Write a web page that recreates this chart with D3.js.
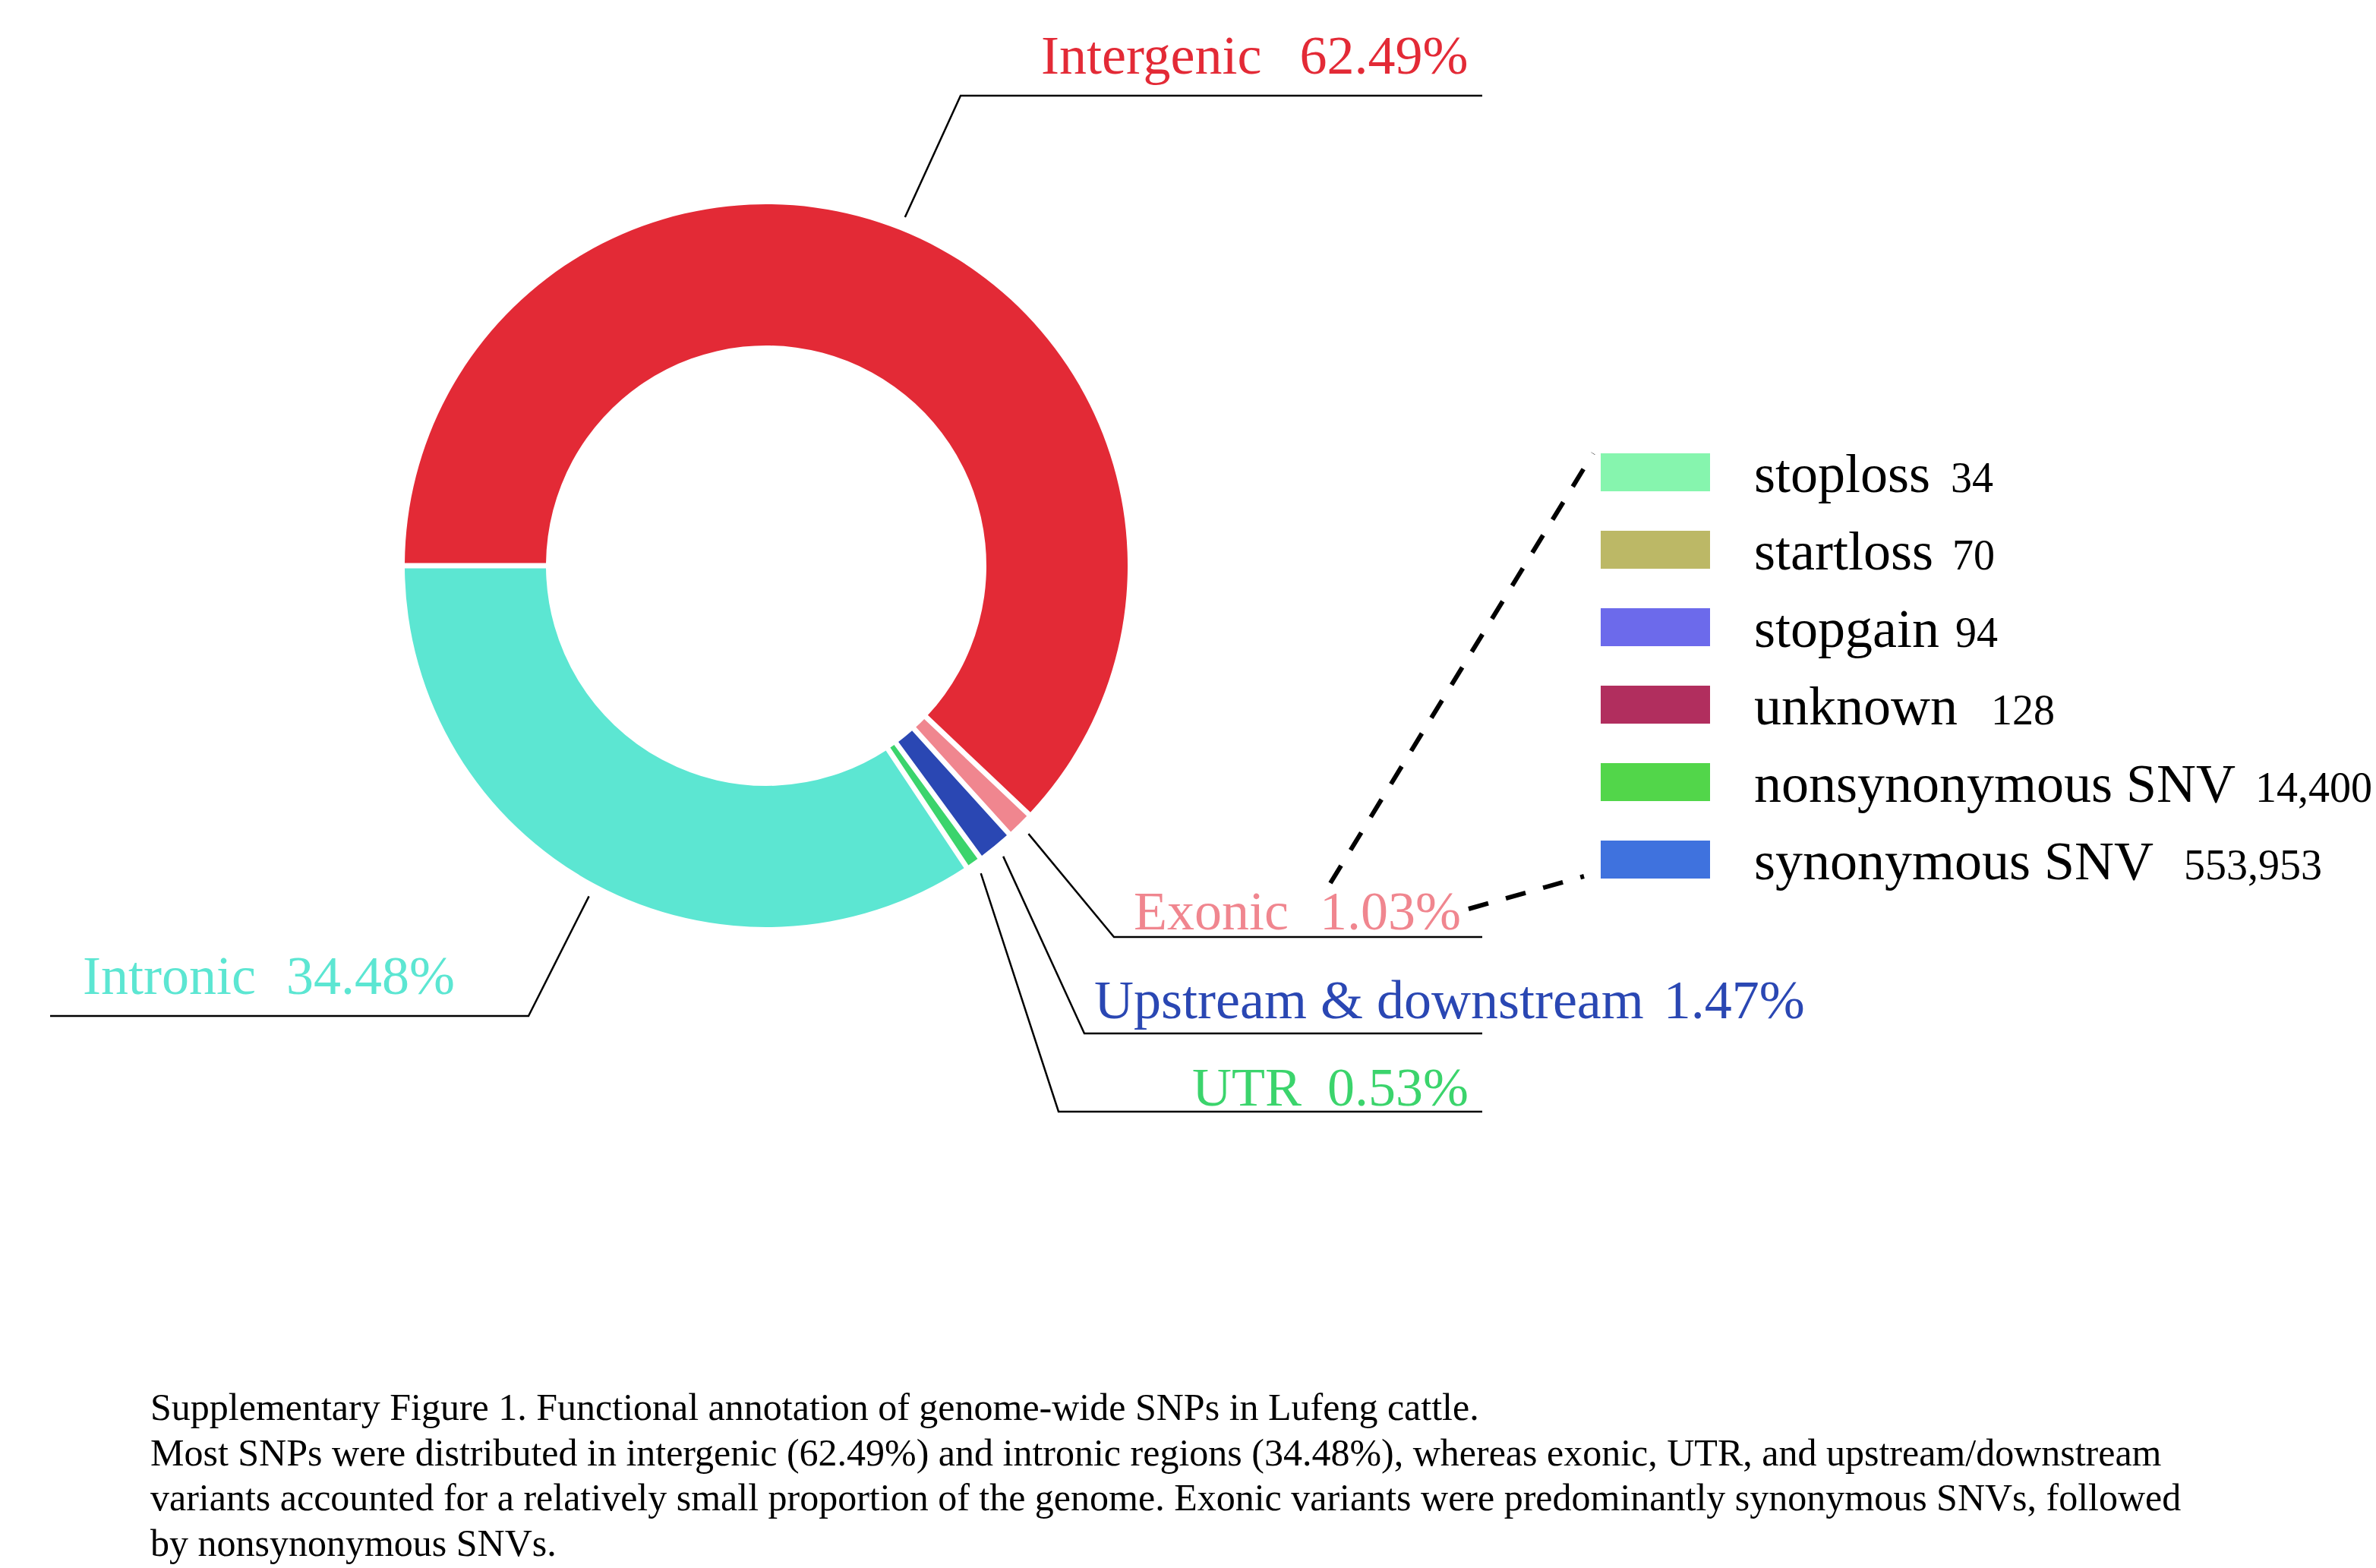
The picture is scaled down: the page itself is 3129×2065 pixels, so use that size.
<!DOCTYPE html>
<html>
<head>
<meta charset="utf-8">
<script src="https://cdn.jsdelivr.net/npm/d3@7"></script>
<style>
  body { margin: 0; background: #fff; }
  text { font-family: "Liberation Serif", "Times New Roman", serif; }
</style>
</head>
<body>
<div id="chart"></div>
<script>
// genomic region annotation (percent of all SNPs)
var categories = ["Intergenic", "Exonic", "Upstream & downstream", "UTR", "Intronic"];
var percents = [62.49, 1.03, 1.47, 0.53, 34.48];
var colors = ["#e32a36", "#f0868f", "#2a47b3", "#3bd46c", "#5ce6d2"];

// exonic variant types (counts)
var exonicTypes = ["stoploss", "startloss", "stopgain", "unknown", "nonsynonymous SNV", "synonymous SNV"];
var exonicCounts = [34, 70, 94, 128, 14400, 553953];
var exonicColors = ["#86f5ae", "#bcb866", "#6c6aeb", "#b12e5e", "#52d64a", "#3f72de"];

var captionLines = [
  "Supplementary Figure 1. Functional annotation of genome-wide SNPs in Lufeng cattle.",
  "Most SNPs were distributed in intergenic (62.49%) and intronic regions (34.48%), whereas exonic, UTR, and upstream/downstream",
  "variants accounted for a relatively small proportion of the genome. Exonic variants were predominantly synonymous SNVs, followed",
  "by nonsynonymous SNVs."
];

// layout of the leader lines / labels (one per category)
var labelLineY = [126, 1234, 1361, 1464, 1338];
var labelElbowX = [1265, 1467, 1428, 1394, 696];
var labelEndX = [1952, 1952, 1952, 1952, 66];
var labelTextX = [1371, 1493, 1441, 1570, 109];
var labelBaseY = [97, 1224, 1341, 1456, 1309];
var labelGap = [50, 41, 26, 34, 40];

var width = 3129, height = 2065;
var cx = 1009, cy = 745, rOuter = 476, rInner = 290;

var svg = d3.select("#chart")
  .append("svg")
    .attr("width", width)
    .attr("height", height);

var data = categories.map(function(c, i) { return {name: c, value: percents[i], i: i}; });

var pie = d3.pie()
  .sort(null)
  .value(function(d) { return d.value; })
  .startAngle(-Math.PI / 2)
  .endAngle(3 * Math.PI / 2)
  .padAngle(0.0125);

var arc = d3.arc()
  .innerRadius(rInner)
  .outerRadius(rOuter);

var arcs = pie(data);

var g = svg.append("g")
  .attr("transform", "translate(" + cx + "," + cy + ")");

g.selectAll("path.slice")
  .data(arcs)
  .enter()
  .append("path")
    .attr("class", "slice")
    .attr("fill", function(d) { return colors[d.data.i]; })
    .attr("d", arc);

// leader lines start just outside the ring at each slice's middle angle
var rLead = rOuter + 18;
svg.selectAll("polyline.lead")
  .data(arcs)
  .enter()
  .append("polyline")
    .attr("class", "lead")
    .attr("fill", "none")
    .attr("stroke", "#000")
    .attr("stroke-width", 2.5)
    .attr("points", function(d) {
      var a = (d.startAngle + d.endAngle) / 2;
      var i = d.data.i;
      var x0 = cx + rLead * Math.sin(a), y0 = cy - rLead * Math.cos(a);
      return [[x0, y0], [labelElbowX[i], labelLineY[i]], [labelEndX[i], labelLineY[i]]].join(" ");
    });

var labels = svg.selectAll("text.lab")
  .data(arcs)
  .enter()
  .append("text")
    .attr("class", "lab")
    .attr("x", function(d) { return labelTextX[d.data.i]; })
    .attr("y", function(d) { return labelBaseY[d.data.i]; })
    .attr("fill", function(d) { return colors[d.data.i]; })
    .style("font-size", "72px");
labels.append("tspan").text(function(d) { return d.data.name; });
labels.append("tspan")
  .attr("dx", function(d) { return labelGap[d.data.i]; })
  .text(function(d) { return d3.format(".2f")(d.data.value) + "%"; });

// legend for exonic breakdown
var legX = 2108, legY = 597, legStep = 102, swW = 144, swH = 50;
var leg = svg.selectAll("g.leg")
  .data(exonicTypes)
  .enter()
  .append("g")
    .attr("class", "leg")
    .attr("transform", function(d, i) { return "translate(" + legX + "," + (legY + i * legStep) + ")"; });
leg.append("rect")
  .attr("width", swW)
  .attr("height", swH)
  .attr("fill", function(d, i) { return exonicColors[i]; });
var numGap = [27, 25, 21, 44, 26, 40];
var lt = leg.append("text")
  .attr("x", 202)
  .attr("y", swH + 1)
  .attr("fill", "#000");
lt.append("tspan")
  .style("font-size", "72px")
  .text(function(d) { return d; });
lt.append("tspan")
  .style("font-size", "56px")
  .attr("dx", function(d, i) { return numGap[i]; })
  .text(function(d, i) { return d3.format(",")(exonicCounts[i]); });

// dashed connectors from the exonic label to the legend
var dashLines = [
  [[1752, 1163], [legX - 10, legY]],
  [[1934, 1197], [legX - 22, legY + 5 * legStep + 47]]
];
svg.selectAll("line.dash")
  .data(dashLines)
  .enter()
  .append("line")
    .attr("class", "dash")
    .attr("x1", function(d) { return d[0][0]; })
    .attr("y1", function(d) { return d[0][1]; })
    .attr("x2", function(d) { return d[1][0]; })
    .attr("y2", function(d) { return d[1][1]; })
    .attr("stroke", "#000")
    .attr("stroke-width", 6)
    .attr("stroke-dasharray", "27,24");

// caption
svg.selectAll("text.cap")
  .data(captionLines)
  .enter()
  .append("text")
    .attr("class", "cap")
    .attr("x", 198)
    .attr("y", function(d, i) { return 1870 + i * 59.5; })
    .attr("fill", "#000")
    .style("font-size", "50px")
    .text(function(d) { return d; });
</script>
</body>
</html>
